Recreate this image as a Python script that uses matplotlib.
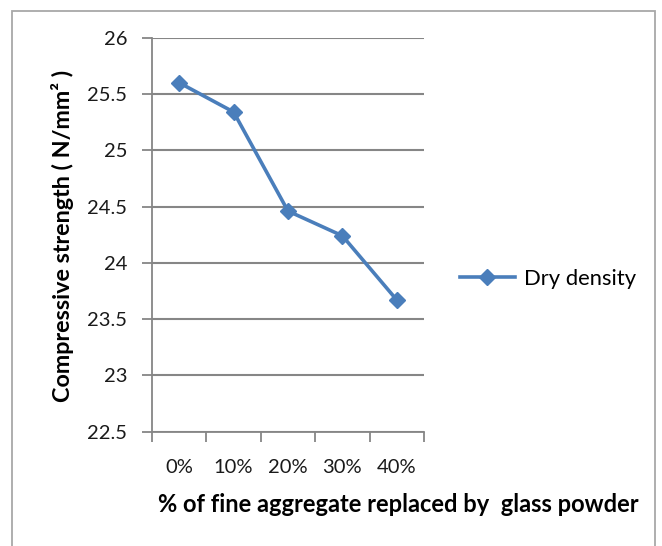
import matplotlib
matplotlib.use("Agg")
import matplotlib.pyplot as plt
from matplotlib.patches import Rectangle

# data
categories = ["0%", "10%", "20%", "30%", "40%"]
strength = [25.60, 25.34, 24.46, 24.24, 23.67]
y_ticks = [22.5, 23, 23.5, 24, 24.5, 25, 25.5, 26]
y_tick_labels = ["22.5", "23", "23.5", "24", "24.5", "25", "25.5", "26"]

plt.rcParams['font.family'] = ['Lato', 'DejaVu Sans']

blue = "#4a7ebb"
grey = "#868686"
ink = "#1a1a1a"

W, H = 662, 546
fig = plt.figure(figsize=(W / 100, H / 100), dpi=100)
fig.patch.set_facecolor("white")

# chart border (bottom runs off the image)
fig.patches.append(Rectangle((12 / W, -0.05), (655 - 12) / W, 1.05 - 11 / H,
                             transform=fig.transFigure, fill=False,
                             edgecolor="#a8a8a8", linewidth=1.3))

ax = fig.add_axes([152 / W, 1 - 431.7 / H, (424 - 152) / W, (431.7 - 37.7) / H])

x = list(range(len(categories)))
ax.plot(x, strength, color=blue, linewidth=2.6, marker="D", markersize=8.5,
        markerfacecolor=blue, markeredgecolor=blue, label="Dry density")

ax.set_xlim(-0.5, len(categories) - 0.5)
ax.set_ylim(22.5, 26)
ax.set_yticks(y_ticks)
ax.set_yticklabels(y_tick_labels, fontsize=14.5, color=ink)

# category labels between boundary ticks, like Excel
ax.set_xticks([i - 0.5 for i in range(len(categories) + 1)])
ax.set_xticklabels([])
ax.set_xticks(x, minor=True)
ax.set_xticklabels(categories, minor=True, fontsize=14.5, color=ink)
ax.tick_params(axis="x", which="major", length=7.2, width=1.3, color=grey, direction="out")
ax.tick_params(axis="x", which="minor", length=0, pad=19.5)
ax.tick_params(axis="y", length=7.2, width=1.3, color=grey, direction="out", pad=10.5)

ax.grid(axis="y", color=grey, linewidth=1.5)
ax.set_axisbelow(True)
for side in ["top", "right"]:
    ax.spines[side].set_visible(False)
for side in ["left", "bottom"]:
    ax.spines[side].set_color(grey)
    ax.spines[side].set_linewidth(1.3)

fig.text(63 / W, 1 - 236 / H, "Compressive strength ( N/mm² )", rotation=90,
         ha="center", va="center", fontsize=16.8, fontweight="bold", color="black")
fig.text(398 / W, 1 - 504 / H, "% of fine aggregate replaced by  glass powder",
         ha="center", va="center", fontsize=17, fontweight="bold", color="black")

ax.legend(loc="center left", bbox_to_anchor=(460 / W, 1 - 279 / H),
          bbox_transform=fig.transFigure, frameon=False, fontsize=15.8,
          handlelength=2.5, handletextpad=0.4, borderaxespad=0, borderpad=0)

fig.savefig("out.png", dpi=100, facecolor="white")
